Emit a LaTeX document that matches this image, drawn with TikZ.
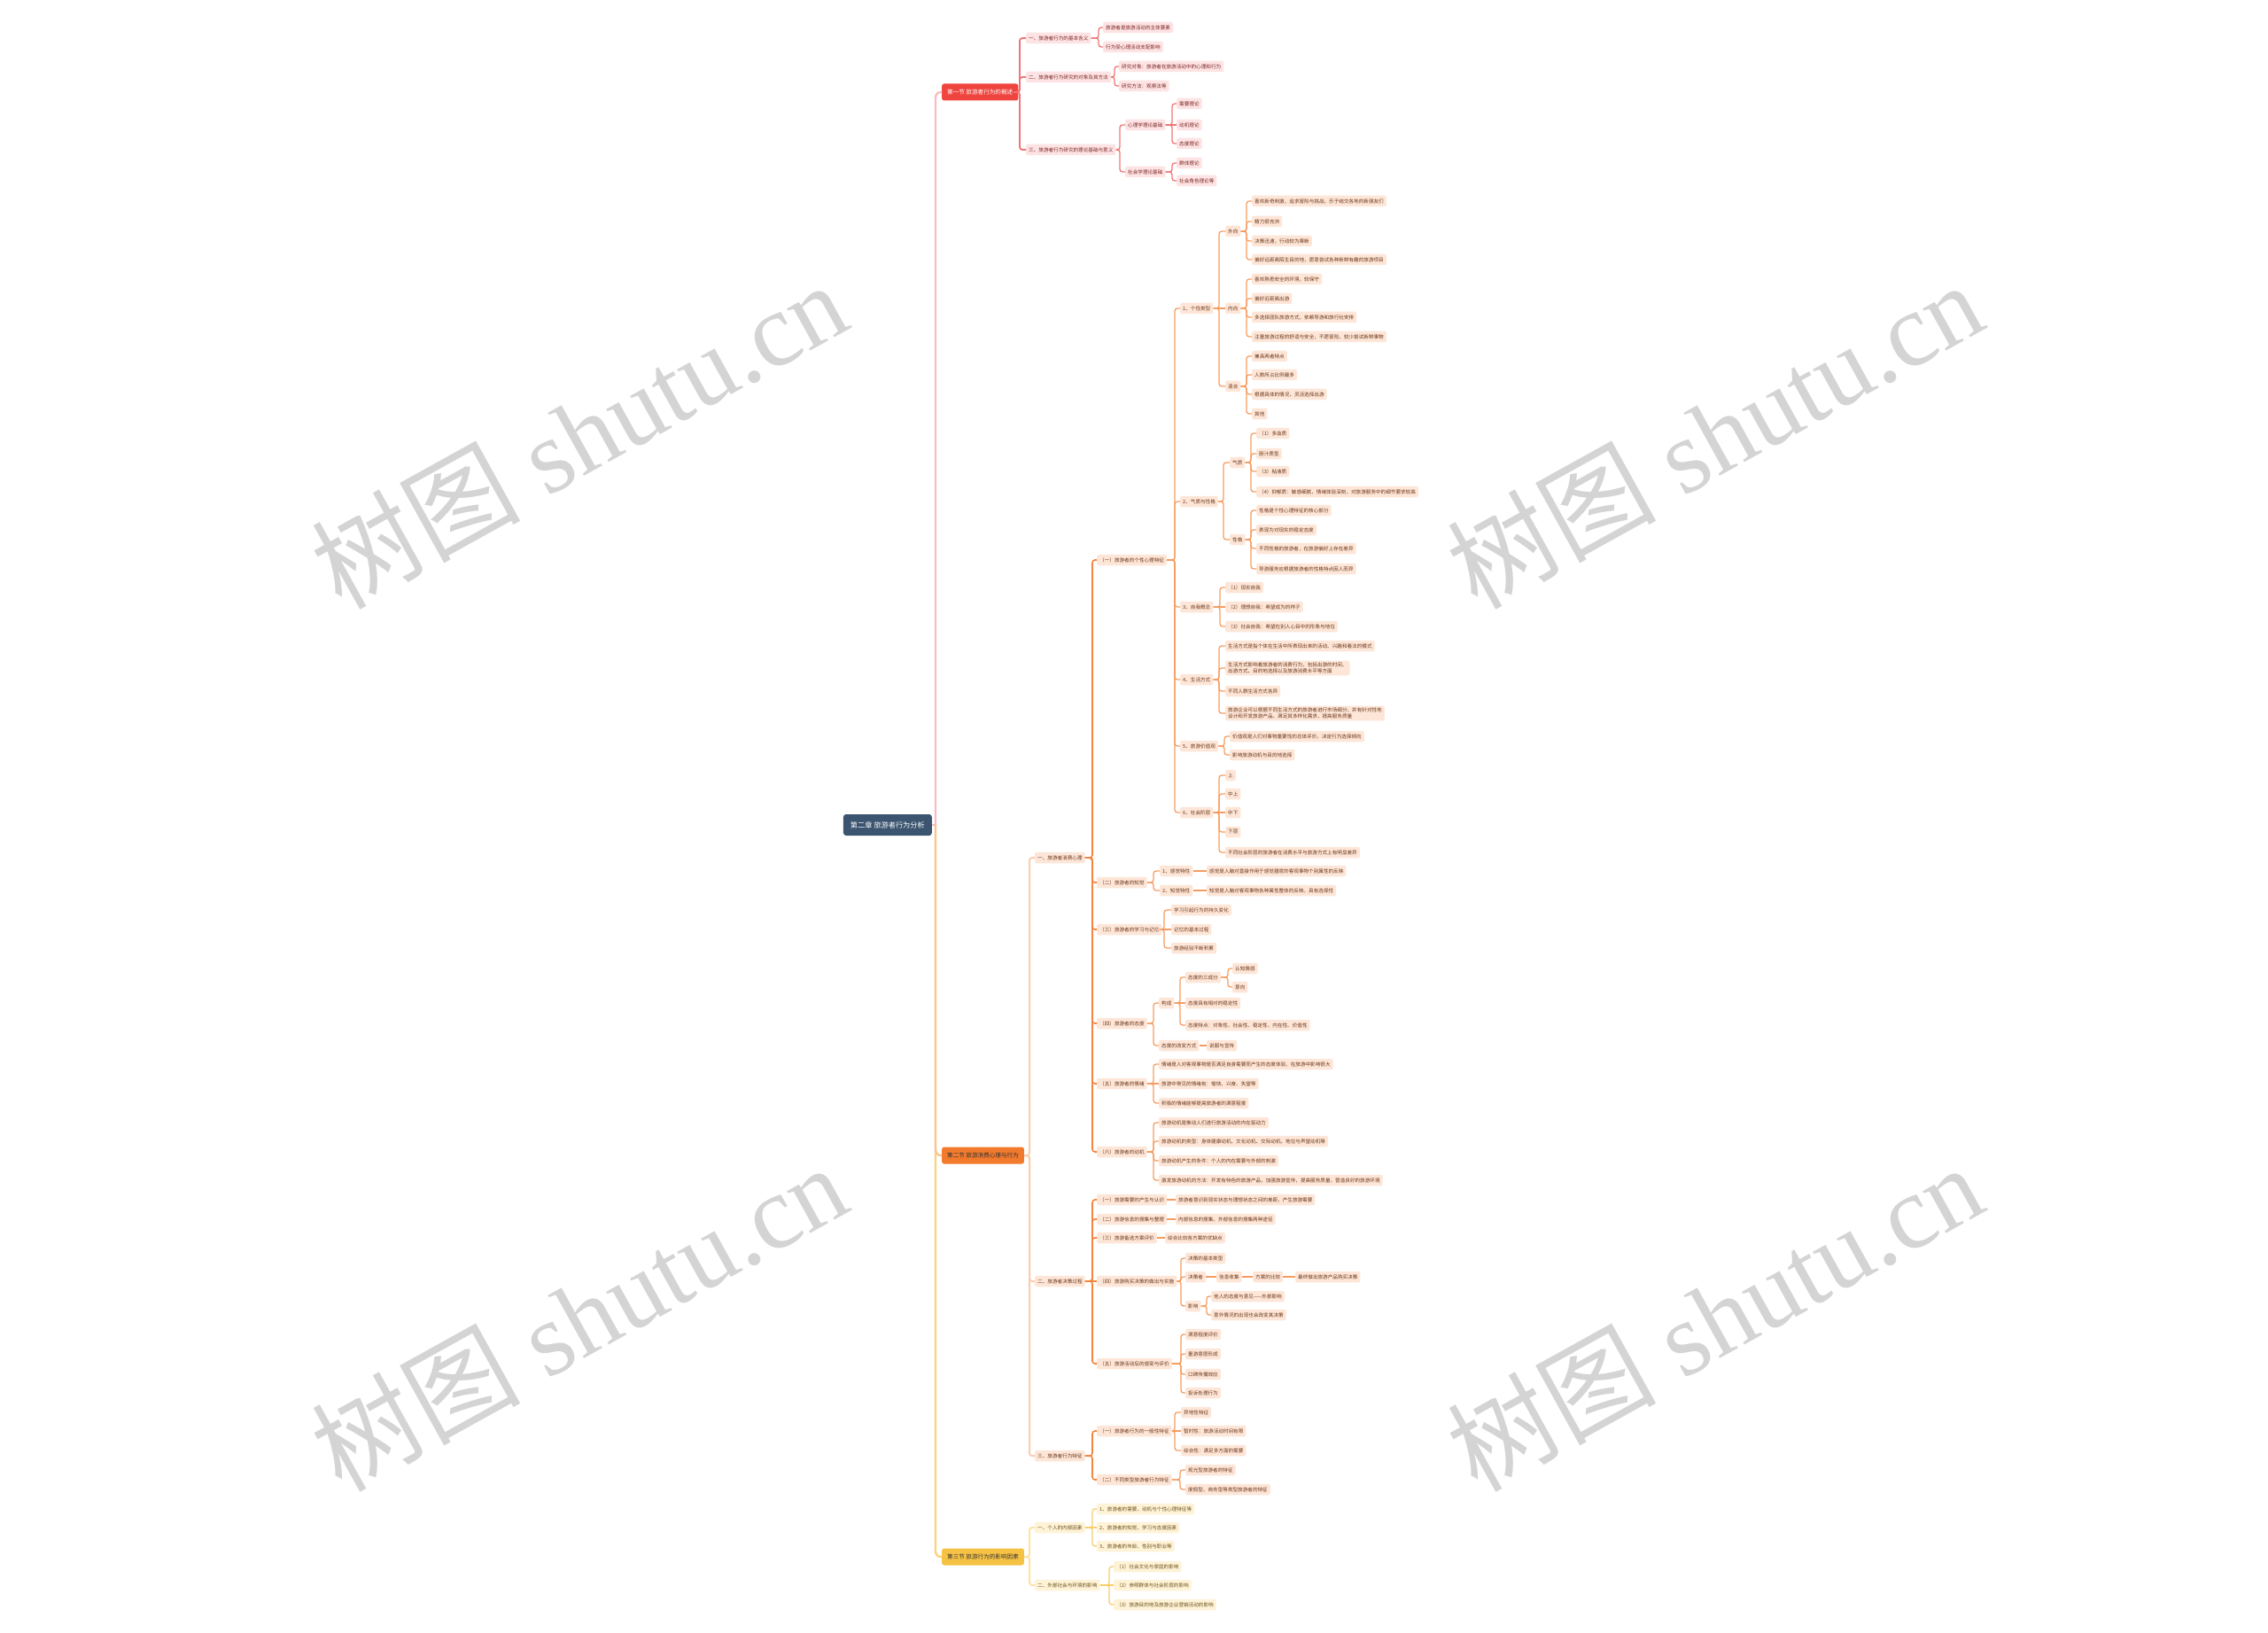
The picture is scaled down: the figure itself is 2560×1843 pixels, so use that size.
\documentclass[tikz,border=0pt]{standalone}
\usepackage{fontspec}
\newfontfamily\cjk{Noto Sans CJK SC}
\newfontfamily\wmlat{Liberation Serif}
\usetikzlibrary{calc}

\definecolor{rootblue}{HTML}{3B5470}
\definecolor{redtop}{HTML}{F0453F}
\definecolor{redbox}{HTML}{FDE3E3}
\definecolor{redtxt}{HTML}{7A2323}
\definecolor{redln}{HTML}{F27474}
\definecolor{redtk}{HTML}{F8BCC0}
\definecolor{ortop}{HTML}{F27A2D}
\definecolor{orbox}{HTML}{FDE6D7}
\definecolor{ortxt}{HTML}{6B3418}
\definecolor{orln}{HTML}{F4843C}
\definecolor{orln2}{HTML}{F69C60}
\definecolor{orlt}{HTML}{FBCDAE}
\definecolor{ortk}{HTML}{FBC48F}
\definecolor{yetop}{HTML}{F6C244}
\definecolor{yebox}{HTML}{FEF2D7}
\definecolor{yetxt}{HTML}{6B5018}
\definecolor{yeln}{HTML}{F8CD68}
\definecolor{yelt}{HTML}{FCE2A4}
\definecolor{yetk}{HTML}{FAD27C}
\definecolor{wmgray}{HTML}{D4D4D4}

\tikzset{
  rootnode/.style={anchor=east, fill=rootblue, text=white, rounded corners=3pt, inner xsep=8pt, inner ysep=0pt, minimum height=24pt, font=\cjk\fontsize{8.2}{9}\selectfont},
  topic/.style={anchor=west, rounded corners=2.5pt, inner xsep=6pt, inner ysep=0pt, minimum height=19pt, font=\cjk\fontsize{6.6}{7}\selectfont},
  leaf/.style={anchor=west, rounded corners=2pt, inner xsep=3pt, inner ysep=0pt, minimum height=12.5pt, font=\cjk\fontsize{5.6}{7}\selectfont},
  twoline/.style={align=left, inner ysep=2pt, font=\cjk\fontsize{5.6}{7.4}\selectfont},
  rleaf/.style={leaf, fill=redbox, text=redtxt},
  oleaf/.style={leaf, fill=orbox, text=ortxt},
  yleaf/.style={leaf, fill=yebox, text=yetxt},
  lk/.style={line width=1.3pt, rounded corners=3pt},
  rlk/.style={lk, draw=redln},
  rlk0/.style={lk, draw=redln, line width=1.8pt},
  olk/.style={lk, draw=orln2},
  olk1/.style={lk, draw=orln, line width=1.6pt},
  olk0/.style={lk, draw=orlt, line width=2pt},
  ylk/.style={lk, draw=yeln},
  ylk0/.style={lk, draw=yelt, line width=2pt},
  trunk/.style={line width=2.4pt, rounded corners=6pt},
  wm/.style={text=wmgray, anchor=base west, inner sep=0pt, rotate=29, font=\wmlat\fontsize{118}{124}\selectfont}
}

\begin{document}
\begin{tikzpicture}[x=1pt, y=-1pt]
\useasboundingbox (0,0) rectangle (2560,1843);

% watermarks
\node[wm] (wm1) at (385,690) {{\cjk 树图} shutu.cn};
\node[wm] (wm2) at (1667,690) {{\cjk 树图} shutu.cn};
\node[wm] (wm3) at (385,1686) {{\cjk 树图} shutu.cn};
\node[wm] (wm4) at (1667,1686) {{\cjk 树图} shutu.cn};

\node[rootnode] (root) at (1052,931) {第二章 旅游者行为分析};
\node[topic, fill=redtop, text=white] (tr) at (1063,104) {第一节 旅游者行为的概述};
\node[topic, fill=ortop, text=black!80] (to) at (1063,1304) {第二节 旅游消费心理与行为};
\node[topic, fill=yetop, text=black!80] (ty) at (1063,1757) {第三节 旅游行为的影响因素};

\coordinate (tk) at (1056,931);
\draw[trunk, draw=redtk] (root.east) -- (tk);
\draw[trunk, draw=yetk] (tk) |- (ty.west);
\draw[trunk, draw=ortk] (tk) |- (to.west);
\draw[trunk, draw=redtk] (tk) |- (tr.west);

% red branch
\node[rleaf] (r1) at (1158,43) {一、旅游者行为的基本含义};
\node[rleaf] (r2) at (1158,87) {二、旅游者行为研究的对象及其方法};
\node[rleaf] (r3) at (1158,169) {三、旅游者行为研究的理论基础与意义};
\node[rleaf] (r11) at (1245,31) {旅游者是旅游活动的主体要素};
\node[rleaf] (r12) at (1245,53) {行为受心理活动支配影响};
\node[rleaf] (r21) at (1263,75) {研究对象：旅游者在旅游活动中的心理和行为};
\node[rleaf] (r22) at (1263,97) {研究方法：观察法等};
\node[rleaf] (r31) at (1270,141) {心理学理论基础};
\node[rleaf] (r32) at (1270,194) {社会学理论基础};
\node[rleaf] (r311) at (1328,117) {需要理论};
\node[rleaf] (r312) at (1328,141) {动机理论};
\node[rleaf] (r313) at (1328,162) {态度理论};
\node[rleaf] (r321) at (1328,184) {群体理论};
\node[rleaf] (r322) at (1328,204) {社会角色理论等};

\foreach \n in {r1,r2,r3} \draw[rlk0] (\n.west) -- ++(-7,0) |- (tr.east);
\foreach \n in {r11,r12} \draw[rlk] (\n.west) -- ++(-5,0) |- (r1.east);
\foreach \n in {r21,r22} \draw[rlk] (\n.west) -- ++(-5,0) |- (r2.east);
\foreach \n in {r31,r32} \draw[rlk] (\n.west) -- ++(-6,0) |- (r3.east);
\foreach \n in {r311,r313} \draw[rlk] (\n.west) -- ++(-5,0) |- (r31.east);
\draw[rlk] (r31.east) -- (r312.west);
\foreach \n in {r321,r322} \draw[rlk] (\n.west) -- ++(-5,0) |- (r32.east);

% orange branch
\node[oleaf] (o1) at (1168,968) {一、旅游者消费心理};
\node[oleaf] (o2) at (1168,1446) {二、旅游者决策过程};
\node[oleaf] (o3) at (1168,1643) {三、旅游者行为特征};

\node[oleaf] (o11) at (1238,632) {（一）旅游者的个性心理特征};
\node[oleaf] (o12) at (1238,996) {（二）旅游者的知觉};
\node[oleaf] (o13) at (1238,1049) {（三）旅游者的学习与记忆};
\node[oleaf] (o14) at (1238,1155) {（四）旅游者的态度};
\node[oleaf] (o15) at (1238,1223) {（五）旅游者的情绪};
\node[oleaf] (o16) at (1238,1300) {（六）旅游者的动机};

\node[oleaf] (o111) at (1332,348) {1、个性类型};
\node[oleaf] (o112) at (1332,566) {2、气质与性格};
\node[oleaf] (o113) at (1332,685) {3、自我概念};
\node[oleaf] (o114) at (1332,767) {4、生活方式};
\node[oleaf] (o115) at (1332,842) {5、旅游价值观};
\node[oleaf] (o116) at (1332,917) {6、社会阶层};

\node[oleaf] (o1111) at (1383,261) {外向};
\node[oleaf] (o1112) at (1383,348) {内向};
\node[oleaf] (o1113) at (1383,436) {混合};
\node[oleaf] (o11111) at (1413,227) {喜欢新奇刺激，追求冒险与挑战，乐于结交各地的新朋友们};
\node[oleaf] (o11112) at (1413,250) {精力很充沛};
\node[oleaf] (o11113) at (1413,272) {决策迅速，行动较为果断};
\node[oleaf] (o11114) at (1413,293) {偏好远距离陌生目的地，愿意尝试各种新鲜有趣的旅游项目};
\node[oleaf] (o11121) at (1413,315) {喜欢熟悉安全的环境，较保守};
\node[oleaf] (o11122) at (1413,337) {偏好近距离出游};
\node[oleaf] (o11123) at (1413,358) {多选择团队旅游方式，依赖导游和旅行社安排};
\node[oleaf] (o11124) at (1413,380) {注重旅游过程的舒适与安全，不愿冒险，较少尝试新鲜事物};
\node[oleaf] (o11131) at (1413,402) {兼具两者特点};
\node[oleaf] (o11132) at (1413,423) {人数所占比例最多};
\node[oleaf] (o11133) at (1413,445) {根据具体的情况，灵活选择出游};
\node[oleaf] (o11134) at (1413,467) {其他};

\node[oleaf] (o1121) at (1388,522) {气质};
\node[oleaf] (o1122) at (1388,609) {性格};
\node[oleaf] (o11211) at (1418,489) {（1）多血质};
\node[oleaf] (o11212) at (1418,512) {胆汁质型};
\node[oleaf] (o11213) at (1418,532) {（3）粘液质};
\node[oleaf] (o11214) at (1418,555) {（4）抑郁质：敏感细腻，情绪体验深刻，对旅游服务中的细节要求较高};
\node[oleaf] (o11221) at (1418,576) {性格是个性心理特征的核心部分};
\node[oleaf] (o11222) at (1418,598) {表现为对现实的稳定态度};
\node[oleaf] (o11223) at (1418,619) {不同性格的旅游者，在旅游偏好上存在差异};
\node[oleaf] (o11224) at (1418,642) {导游服务应根据旅游者的性格特点因人而异};

\node[oleaf] (o1131) at (1383,663) {（1）现实自我};
\node[oleaf] (o1132) at (1383,685) {（2）理想自我：希望成为的样子};
\node[oleaf] (o1133) at (1383,707) {（3）社会自我：希望在别人心目中的形象与地位};

\node[oleaf] (o1141) at (1383,729) {生活方式是指个体在生活中所表现出来的活动、兴趣和看法的模式};
\node[oleaf, twoline] (o1142) at (1383,754) {生活方式影响着旅游者的消费行为，包括出游的时间、\\出游方式、目的地选择以及旅游消费水平等方面};
\node[oleaf] (o1143) at (1383,780) {不同人群生活方式各异};
\node[oleaf, twoline] (o1144) at (1383,805) {旅游企业可以根据不同生活方式的旅游者进行市场细分，并有针对性地\\设计和开发旅游产品，满足其多样化需求，提高服务质量};

\node[oleaf] (o1151) at (1388,831) {价值观是人们对事物重要性的总体评价，决定行为选择倾向};
\node[oleaf] (o1152) at (1388,852) {影响旅游动机与目的地选择};

\node[oleaf] (o1161) at (1383,875) {上};
\node[oleaf] (o1162) at (1383,896) {中上};
\node[oleaf] (o1163) at (1383,917) {中下};
\node[oleaf] (o1164) at (1383,939) {下层};
\node[oleaf] (o1165) at (1383,962) {不同社会阶层的旅游者在消费水平与旅游方式上有明显差异};

\node[oleaf] (o121) at (1309,983) {1、感觉特性};
\node[oleaf] (o1211) at (1362,983) {感觉是人脑对直接作用于感觉器官的客观事物个别属性的反映};
\node[oleaf] (o122) at (1309,1005) {2、知觉特性};
\node[oleaf] (o1221) at (1362,1005) {知觉是人脑对客观事物各种属性整体的反映，具有选择性};

\node[oleaf] (o131) at (1322,1027) {学习引起行为的持久变化};
\node[oleaf] (o132) at (1322,1049) {记忆的基本过程};
\node[oleaf] (o133) at (1322,1070) {旅游经验不断积累};

\node[oleaf] (o141) at (1308,1132) {构成};
\node[oleaf] (o142) at (1308,1180) {态度的改变方式};
\node[oleaf] (o1421) at (1362,1180) {说服与宣传};
\node[oleaf] (o1411) at (1338,1103) {态度的三成分};
\node[oleaf] (o1412) at (1338,1132) {态度具有相对的稳定性};
\node[oleaf] (o1413) at (1338,1157) {态度特点：对象性、社会性、稳定性、内在性、价值性};
\node[oleaf] (o14111) at (1391,1093) {认知情感};
\node[oleaf] (o14112) at (1391,1114) {意向};

\node[oleaf] (o151) at (1308,1201) {情绪是人对客观事物是否满足自身需要而产生的态度体验，在旅游中影响很大};
\node[oleaf] (o152) at (1308,1223) {旅游中常见的情绪有：愉快、兴奋、失望等};
\node[oleaf] (o153) at (1308,1245) {积极的情绪能够提高旅游者的满意程度};

\node[oleaf] (o161) at (1308,1267) {旅游动机是推动人们进行旅游活动的内在驱动力};
\node[oleaf] (o162) at (1308,1288) {旅游动机的类型：身体健康动机、文化动机、交际动机、地位与声望动机等};
\node[oleaf] (o163) at (1308,1310) {旅游动机产生的条件：个人的内在需要与外部的刺激};
\node[oleaf] (o164) at (1308,1332) {激发旅游动机的方法：开发有特色的旅游产品，加强旅游宣传，提高服务质量，营造良好的旅游环境};

\node[oleaf] (o21) at (1238,1354) {（一）旅游需要的产生与认识};
\node[oleaf] (o211) at (1327,1354) {旅游者意识到现实状态与理想状态之间的差距，产生旅游需要};
\node[oleaf] (o22) at (1238,1376) {（二）旅游信息的搜集与整理};
\node[oleaf] (o221) at (1327,1376) {内部信息的搜集、外部信息的搜集两种途径};
\node[oleaf] (o23) at (1238,1397) {（三）旅游备选方案评价};
\node[oleaf] (o231) at (1315,1397) {综合比较各方案的优缺点};
\node[oleaf] (o24) at (1238,1446) {（四）旅游购买决策的做出与实施};
\node[oleaf] (o25) at (1238,1539) {（五）旅游活动后的感受与评价};

\node[oleaf] (o241) at (1338,1420) {决策的基本类型};
\node[oleaf] (o242) at (1338,1441) {决策者};
\node[oleaf] (o2421) at (1373,1441) {信息收集};
\node[oleaf] (o2422) at (1414,1441) {方案的比较};
\node[oleaf] (o2423) at (1462,1441) {最终做出旅游产品购买决策};
\node[oleaf] (o243) at (1338,1474) {影响};
\node[oleaf] (o2431) at (1367,1463) {他人的态度与意见——外部影响};
\node[oleaf] (o2432) at (1367,1484) {意外情况的出现也会改变其决策};

\node[oleaf] (o251) at (1338,1506) {满意程度评价};
\node[oleaf] (o252) at (1338,1528) {重游意愿形成};
\node[oleaf] (o253) at (1338,1551) {口碑传播效应};
\node[oleaf] (o254) at (1338,1572) {投诉处理行为};

\node[oleaf] (o31) at (1238,1615) {（一）旅游者行为的一般性特征};
\node[oleaf] (o311) at (1333,1594) {异地性特征};
\node[oleaf] (o312) at (1333,1615) {暂时性：旅游活动时间有限};
\node[oleaf] (o313) at (1333,1637) {综合性：满足多方面的需要};
\node[oleaf] (o32) at (1238,1670) {（二）不同类型旅游者行为特征};
\node[oleaf] (o321) at (1338,1659) {观光型旅游者的特征};
\node[oleaf] (o322) at (1338,1681) {度假型、商务型等类型旅游者的特征};

\foreach \n in {o1,o2,o3} \draw[olk0] (\n.west) -- ++(-6,0) |- (to.east);
\foreach \n in {o11,o12,o13,o14,o15,o16} \draw[olk1] (\n.west) -- ++(-5,0) |- (o1.east);
\foreach \n in {o111,o112,o113,o114,o115,o116} \draw[olk] (\n.west) -- ++(-6,0) |- (o11.east);
\foreach \n in {o1111,o1113} \draw[olk] (\n.west) -- ++(-7,0) |- (o111.east);
\draw[olk] (o111.east) -- (o1112.west);
\foreach \n in {o11111,o11112,o11113,o11114} \draw[olk] (\n.west) -- ++(-6,0) |- (o1111.east);
\foreach \n in {o11121,o11122,o11123,o11124} \draw[olk] (\n.west) -- ++(-6,0) |- (o1112.east);
\foreach \n in {o11131,o11132,o11133,o11134} \draw[olk] (\n.west) -- ++(-6,0) |- (o1113.east);
\foreach \n in {o1121,o1122} \draw[olk] (\n.west) -- ++(-7,0) |- (o112.east);
\foreach \n in {o11211,o11212,o11213,o11214} \draw[olk] (\n.west) -- ++(-6,0) |- (o1121.east);
\foreach \n in {o11221,o11222,o11223,o11224} \draw[olk] (\n.west) -- ++(-6,0) |- (o1122.east);
\foreach \n in {o1131,o1133} \draw[olk] (\n.west) -- ++(-6,0) |- (o113.east);
\draw[olk] (o113.east) -- (o1132.west);
\foreach \n in {o1141,o1142,o1143,o1144} \draw[olk] (\n.west) -- ++(-7,0) |- (o114.east);
\foreach \n in {o1151,o1152} \draw[olk] (\n.west) -- ++(-6,0) |- (o115.east);
\foreach \n in {o1161,o1162,o1164,o1165} \draw[olk] (\n.west) -- ++(-7,0) |- (o116.east);
\draw[olk] (o116.east) -- (o1163.west);

\foreach \n in {o121,o122} \draw[olk] (\n.west) -- ++(-7,0) |- (o12.east);
\draw[olk] (o121.east) -- (o1211.west);
\draw[olk] (o122.east) -- (o1221.west);
\foreach \n in {o131,o133} \draw[olk] (\n.west) -- ++(-8,0) |- (o13.east);
\draw[olk] (o13.east) -- (o132.west);
\foreach \n in {o141,o142} \draw[olk] (\n.west) -- ++(-6,0) |- (o14.east);
\draw[olk] (o142.east) -- (o1421.west);
\foreach \n in {o1411,o1413} \draw[olk] (\n.west) -- ++(-6,0) |- (o141.east);
\draw[olk] (o141.east) -- (o1412.west);
\foreach \n in {o14111,o14112} \draw[olk] (\n.west) -- ++(-5,0) |- (o1411.east);
\foreach \n in {o151,o153} \draw[olk] (\n.west) -- ++(-6,0) |- (o15.east);
\draw[olk] (o15.east) -- (o152.west);
\foreach \n in {o161,o162,o163,o164} \draw[olk] (\n.west) -- ++(-6,0) |- (o16.east);

\foreach \n in {o21,o22,o23,o25} \draw[olk1] (\n.west) -- ++(-5,0) |- (o2.east);
\draw[olk1] (o2.east) -- (o24.west);
\draw[olk] (o21.east) -- (o211.west);
\draw[olk] (o22.east) -- (o221.west);
\draw[olk] (o23.east) -- (o231.west);
\foreach \n in {o241,o242,o243} \draw[olk] (\n.west) -- ++(-5,0) |- (o24.east);
\draw[olk] (o242.east) -- (o2421.west);
\draw[olk] (o2421.east) -- (o2422.west);
\draw[olk] (o2422.east) -- (o2423.west);
\foreach \n in {o2431,o2432} \draw[olk] (\n.west) -- ++(-5,0) |- (o243.east);
\foreach \n in {o251,o252,o253,o254} \draw[olk] (\n.west) -- ++(-5,0) |- (o25.east);

\foreach \n in {o31,o32} \draw[olk1] (\n.west) -- ++(-5,0) |- (o3.east);
\foreach \n in {o311,o313} \draw[olk] (\n.west) -- ++(-7,0) |- (o31.east);
\draw[olk] (o31.east) -- (o312.west);
\foreach \n in {o321,o322} \draw[olk] (\n.west) -- ++(-6,0) |- (o32.east);

% yellow branch
\node[yleaf] (y1) at (1168,1724) {一、个人的内部因素};
\node[yleaf] (y2) at (1168,1789) {二、外部社会与环境的影响};
\node[yleaf] (y11) at (1238,1703) {1、旅游者的需要、动机与个性心理特征等};
\node[yleaf] (y12) at (1238,1724) {2、旅游者的知觉、学习与态度因素};
\node[yleaf] (y13) at (1238,1745) {3、旅游者的年龄、性别与职业等};
\node[yleaf] (y21) at (1257,1768) {（1）社会文化与家庭的影响};
\node[yleaf] (y22) at (1257,1789) {（2）参照群体与社会阶层的影响};
\node[yleaf] (y23) at (1257,1811) {（3）旅游目的地及旅游企业营销活动的影响};

\foreach \n in {y1,y2} \draw[ylk0] (\n.west) -- ++(-6,0) |- (ty.east);
\foreach \n in {y11,y13} \draw[ylk] (\n.west) -- ++(-5,0) |- (y1.east);
\draw[ylk] (y1.east) -- (y12.west);
\foreach \n in {y21,y23} \draw[ylk] (\n.west) -- ++(-5,0) |- (y2.east);
\draw[ylk] (y2.east) -- (y22.west);

\end{tikzpicture}
\end{document}
